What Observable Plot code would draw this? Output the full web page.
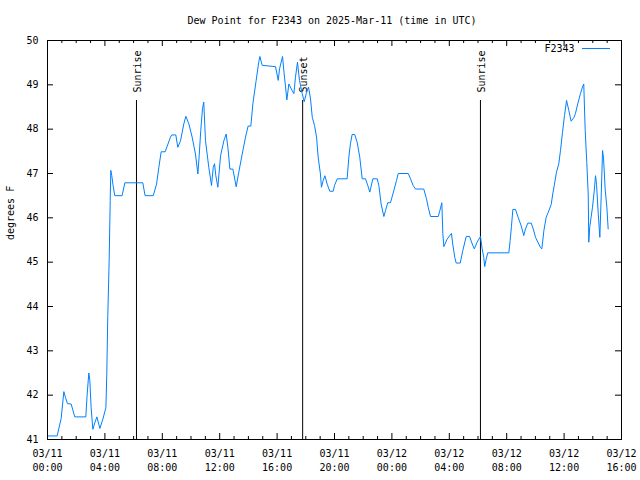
<!DOCTYPE html>
<html>
<head>
<meta charset="utf-8">
<script src="https://cdn.jsdelivr.net/npm/d3@7"></script>
<script src="https://cdn.jsdelivr.net/npm/@observablehq/plot@0.6"></script>
<style>
  html, body { margin: 0; padding: 0; background: white; }
</style>
</head>
<body>
<div id="chart"></div>
<script>
// ---- Data (hours after 2025-03-11 00:00 UTC, dew point in °F) ----
const hoursUTC = [
  0, 0.67, 0.95, 1.14, 1.25, 1.39, 1.65, 1.9, 2.67, 2.76,
  2.88, 2.95, 3.04, 3.16, 3.27, 3.44, 3.65, 3.86, 4.07, 4.13,
  4.2, 4.3, 4.37, 4.41, 4.48, 4.57, 4.69, 5.2, 5.39, 6.64,
  6.8, 7.37, 7.6, 7.76, 7.92, 8.2, 8.57, 8.66, 8.94, 9.08,
  9.27, 9.5, 9.64, 9.85, 10.08, 10.31, 10.48, 10.57, 10.68, 10.8,
  10.89, 11.01, 11.24, 11.43, 11.55, 11.64, 11.73, 11.87, 12.06, 12.29,
  12.45, 12.57, 12.71, 12.92, 13.15, 13.33, 13.57, 13.8, 13.98, 14.17,
  14.31, 14.54, 14.73, 14.8, 14.96, 15.89, 16.08, 16.17, 16.38, 16.49,
  16.59, 16.68, 16.82, 17.05, 17.17, 17.28, 17.42, 17.56, 17.75, 17.89,
  18.03, 18.19, 18.33, 18.45, 18.61, 18.75, 18.86, 19.02, 19.09, 19.21,
  19.33, 19.49, 19.67, 19.91, 20.0, 20.19, 20.88, 21.0, 21.11, 21.23,
  21.41, 21.58, 21.76, 21.93, 22.16, 22.32, 22.46, 22.67, 22.98, 23.09,
  23.25, 23.44, 23.55, 23.71, 23.9, 24.13, 24.32, 24.44, 25.14, 25.3,
  25.48, 25.64, 26.22, 26.41, 26.53, 26.69, 27.23, 27.34, 27.48, 27.55,
  27.62, 27.85, 28.15, 28.24, 28.38, 28.48, 28.76, 28.94, 29.18, 29.41,
  29.6, 29.74, 29.94, 30.17, 30.29, 30.4, 30.47, 30.57, 30.68, 32.15,
  32.24, 32.33, 32.43, 32.61, 32.8, 33.01, 33.19, 33.31, 33.47, 33.71,
  33.85, 34.01, 34.17, 34.36, 34.45, 34.59, 34.75, 34.89, 35.1, 35.21,
  35.33, 35.47, 35.63, 35.75, 35.89, 36.03, 36.17, 36.33, 36.49, 36.68,
  36.79, 36.95, 37.14, 37.28, 37.37, 37.47, 37.58, 37.68, 37.72, 37.79,
  37.88, 37.98, 38.1, 38.19, 38.26, 38.38, 38.49, 38.59, 38.68, 38.75,
  38.86, 38.98, 39.07
];
const dewPointF = [
  41.08, 41.08, 41.47, 42.08, 41.95, 41.81, 41.8, 41.51, 41.51, 42.0,
  42.5, 42.33, 41.72, 41.23, 41.35, 41.51, 41.25, 41.46, 41.72, 42.46,
  43.77, 45.09, 46.39, 47.07, 46.95, 46.73, 46.5, 46.5, 46.79, 46.79,
  46.5, 46.5, 46.76, 47.14, 47.49, 47.49, 47.82, 47.87, 47.87, 47.59,
  47.74, 48.12, 48.29, 48.12, 47.82, 47.44, 46.99, 47.4, 47.97, 48.46,
  48.61, 47.74, 47.14, 46.73, 47.14, 47.22, 46.95, 46.69, 47.4, 47.74,
  47.89, 47.59, 47.1, 47.1, 46.7, 47.03, 47.44, 47.82, 48.07, 48.07,
  48.57, 49.1, 49.53, 49.64, 49.44, 49.41, 49.1, 49.36, 49.64, 49.25,
  48.95, 48.66, 49.02, 48.87, 48.8, 49.17, 49.51, 49.1, 48.8, 48.62,
  48.8, 48.95, 48.68, 48.27, 48.08, 47.82, 47.37, 46.99, 46.69, 46.84,
  46.95, 46.76, 46.6, 46.6, 46.73, 46.88, 46.88, 47.37, 47.67, 47.88,
  47.88, 47.7, 47.37, 46.88, 46.88, 46.73, 46.58, 46.88, 46.88, 46.73,
  46.31, 46.03, 46.16, 46.34, 46.34, 46.61, 46.84, 47.0, 47.0, 46.88,
  46.73, 46.65, 46.65, 46.43, 46.24, 46.03, 46.03, 46.16, 46.34, 45.64,
  45.35, 45.52, 45.65, 45.41, 45.11, 44.98, 44.98, 45.26, 45.58, 45.58,
  45.41, 45.3, 45.45, 45.58, 45.3, 45.11, 44.9, 45.07, 45.21, 45.21,
  45.49, 45.8, 46.19, 46.19, 46.01, 45.82, 45.6, 45.75, 45.88, 45.88,
  45.75, 45.56, 45.45, 45.33, 45.3, 45.71, 46.01, 46.12, 46.3, 46.54,
  46.76, 47.03, 47.22, 47.52, 47.93, 48.31, 48.65, 48.42, 48.18, 48.26,
  48.35, 48.57, 48.8, 48.95, 49.02, 47.97, 47.25, 46.54, 45.45, 45.8,
  46.01, 46.24, 46.61, 46.95, 46.76, 46.09, 45.56, 46.54, 47.52, 47.33,
  46.65, 46.24, 45.75
];

// Sun events (hours after start)
const eventLabels = ["Sunrise", "Sunset", "Sunrise"];
const eventHours = [6.2, 17.78, 30.17];

// Axis ticks
const yTickValues = [41, 42, 43, 44, 45, 46, 47, 48, 49, 50];
const xTickHours = [0, 4, 8, 12, 16, 20, 24, 28, 32, 36, 40];
const xTickDates = ["03/11", "03/11", "03/11", "03/11", "03/11", "03/11", "03/12", "03/12", "03/12", "03/12", "03/12"];
const xTickTimes = ["00:00", "04:00", "08:00", "12:00", "16:00", "20:00", "00:00", "04:00", "08:00", "12:00", "16:00"];

const titleText = "Dew Point for F2343 on 2025-Mar-11 (time in UTC)";
const yLabelText = "degrees F";
const seriesName = "F2343";
const seriesColor = "#0080ff";

// ---- Build ----
const start = Date.UTC(2025, 2, 11, 0, 0);
const toDate = h => new Date(start + h * 3600e3);
const data = hoursUTC.map((h, i) => ({time: toDate(h), dew: dewPointF[i]}));
const events = eventLabels.map((label, i) => ({label, time: toDate(eventHours[i])}));
const xTicks = xTickHours.map((h, i) => ({time: toDate(h), label: xTickDates[i] + "\n" + xTickTimes[i]}));
const minorTicks = d3.range(0, 41).filter(h => h % 4 !== 0).map(toDate);

const W = 640, H = 480, mL = 47, mR = 19, mT = 40, mB = 41;
const innerW = W - mL - mR, innerH = H - mT - mB;

const legendLine = (index, scales, values, dims) => {
  const g = d3.create("svg:g");
  g.append("line")
    .attr("x1", dims.width - dims.marginRight - 39)
    .attr("x2", dims.width - dims.marginRight - 11)
    .attr("y1", dims.marginTop + 8.5)
    .attr("y2", dims.marginTop + 8.5)
    .attr("stroke", seriesColor)
    .attr("stroke-width", 1);
  return g.node();
};

const chart = Plot.plot({
  width: W,
  height: H,
  marginLeft: mL,
  marginRight: mR,
  marginTop: mT,
  marginBottom: mB,
  style: {fontFamily: "'DejaVu Sans Mono', monospace", fontSize: "10px", background: "white", color: "black"},
  x: {type: "utc", domain: [toDate(0), toDate(40)], axis: null},
  y: {domain: [41, 50], axis: null},
  marks: [
    // ticks (inward, mirrored)
    Plot.tickX(xTicks, {x: "time", insetTop: innerH - 6, stroke: "black"}),
    Plot.tickX(xTicks, {x: "time", insetBottom: innerH - 6, stroke: "black"}),
    Plot.tickX(minorTicks, {x: d => d, insetTop: innerH - 3, stroke: "black"}),
    Plot.tickX(minorTicks, {x: d => d, insetBottom: innerH - 3, stroke: "black"}),
    Plot.tickY(yTickValues, {y: d => d, insetRight: innerW - 6, stroke: "black"}),
    Plot.tickY(yTickValues, {y: d => d, insetLeft: innerW - 6, stroke: "black"}),
    // tick labels
    Plot.text(yTickValues, {y: d => d, text: d => String(d), frameAnchor: "left", textAnchor: "end", dx: -9, fill: "black"}),
    Plot.text(xTicks, {x: "time", text: "label", frameAnchor: "bottom", lineAnchor: "top", dy: 8, lineHeight: 1.4, fill: "black"}),
    // sun events
    Plot.ruleX(events, {x: "time", insetTop: 60, stroke: "black"}),
    Plot.text(events, {x: "time", text: "label", frameAnchor: "top", rotate: -90, textAnchor: "start", lineAnchor: "middle", dy: 52, dx: 1, fill: "black"}),
    // data line
    Plot.line(data, {x: "time", y: "dew", stroke: seriesColor, strokeWidth: 1}),
    // frame
    Plot.frame({stroke: "black"}),
    // title and axis label
    Plot.text([titleText], {text: d => d, frameAnchor: "top", lineAnchor: "middle", dy: -20, dx: -2.5, fill: "black"}),
    Plot.text([yLabelText], {text: d => d, frameAnchor: "left", lineAnchor: "middle", rotate: -90, dx: -37, fill: "black"}),
    // legend
    Plot.text([seriesName], {text: d => d, frameAnchor: "top-right", textAnchor: "end", lineAnchor: "middle", dx: -47, dy: 8.5, fill: "black"}),
    legendLine
  ]
});
document.getElementById("chart").appendChild(chart);
</script>
</body>
</html>
